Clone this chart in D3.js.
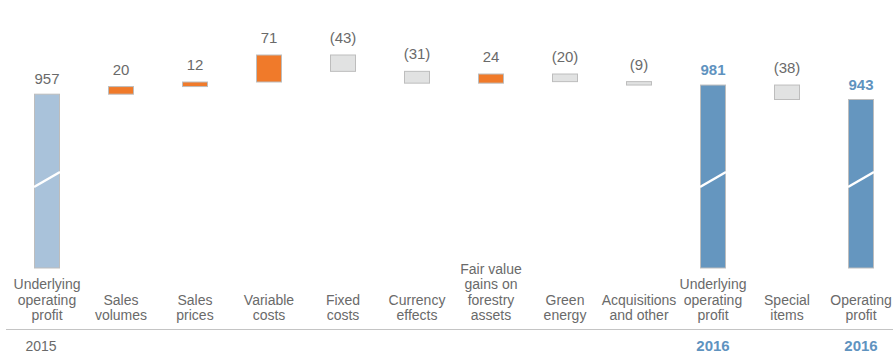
<!DOCTYPE html>
<html>
<head>
<meta charset="utf-8">
<script src="https://cdn.jsdelivr.net/npm/d3@7"></script>
<style>
  body { margin: 0; background: #fff; }
  text { font-family: "Liberation Sans", Arial, sans-serif; }
</style>
</head>
<body>
<script>
// chart data
var categories = [
  ["Underlying", "operating", "profit"],
  ["Sales", "volumes"],
  ["Sales", "prices"],
  ["Variable", "costs"],
  ["Fixed", "costs"],
  ["Currency", "effects"],
  ["Fair value", "gains on", "forestry", "assets"],
  ["Green", "energy"],
  ["Acquisitions", "and other"],
  ["Underlying", "operating", "profit"],
  ["Special", "items"],
  ["Operating", "profit"]
];
var values = [957, 20, 12, 71, -43, -31, 24, -20, -9, 981, -38, 943];
var kinds = ["total", "delta", "delta", "delta", "delta", "delta", "delta", "delta", "delta", "total", "delta", "total"];
var valueLabels = ["957", "20", "12", "71", "(43)", "(31)", "24", "(20)", "(9)", "981", "(38)", "943"];
var yearLabels = ["2015", "", "", "", "", "", "", "", "", "2016", "", "2016"];

var width = 893, height = 355;
var barW = 25;
var floorValue = 500; // visible base of the broken total bars

var svg = d3.select("body").append("svg")
    .attr("width", width)
    .attr("height", height);

var x = d3.scalePoint()
    .domain(d3.range(categories.length))
    .range([47, 861]);

var y = d3.scaleLinear()
    .domain([floorValue, 1060])
    .range([268, 55]);

// work out the start / end of every bar
var running = 0;
var bars = values.map(function(v, i) {
  var d = { i: i, kind: kinds[i], label: valueLabels[i] };
  if (kinds[i] == "total") {
    d.lo = floorValue; d.hi = v; running = v;
    d.first = (i == 0);
  } else {
    d.lo = Math.min(running, running + v);
    d.hi = Math.max(running, running + v);
    d.up = v > 0;
    running += v;
  }
  return d;
});

function fillOf(d) {
  if (d.kind == "total") return d.first ? "#a9c2da" : "#6596bf";
  return d.up ? "#f07a2a" : "#e1e2e2";
}

svg.selectAll("rect.bar")
  .data(bars)
  .enter().append("rect")
    .attr("class", "bar")
    .attr("x", function(d) { return x(d.i) - barW / 2; })
    .attr("y", function(d) { return y(d.hi); })
    .attr("width", barW)
    .attr("height", function(d) { return y(d.lo) - y(d.hi); })
    .attr("fill", fillOf)
    .attr("stroke", "#bdbdbd")
    .attr("stroke-width", 1);

// white break line across the total bars
svg.selectAll("line.brk")
  .data(bars.filter(function(d) { return d.kind == "total"; }))
  .enter().append("line")
    .attr("class", "brk")
    .attr("x1", function(d) { return x(d.i) - barW / 2 - 0.5; })
    .attr("x2", function(d) { return x(d.i) + barW / 2 + 0.5; })
    .attr("y1", 187)
    .attr("y2", 172)
    .attr("stroke", "#fff")
    .attr("stroke-width", 2.5);

// value labels
svg.selectAll("text.val")
  .data(bars)
  .enter().append("text")
    .attr("class", "val")
    .attr("x", function(d) { return x(d.i); })
    .attr("y", function(d) { return y(d.hi) - (d.kind == "total" ? 10 : 12); })
    .attr("text-anchor", "middle")
    .attr("font-size", 15)
    .attr("font-weight", function(d) { return (d.kind == "total" && !d.first) ? "bold" : "normal"; })
    .attr("fill", function(d) { return (d.kind == "total" && !d.first) ? "#5f93bf" : "#6a6a6a"; })
    .text(function(d) { return d.label; });

// category labels, bottom aligned
var lineH = 15.5;
var cat = svg.selectAll("text.cat")
  .data(categories)
  .enter().append("text")
    .attr("class", "cat")
    .attr("text-anchor", "middle")
    .attr("font-size", 14)
    .attr("fill", "#6a6a6a");

cat.each(function(lines, i) {
  var t = d3.select(this);
  lines.forEach(function(l, j) {
    t.append("tspan")
      .attr("x", x(i))
      .attr("y", 320 - (lines.length - 1 - j) * lineH)
      .text(l);
  });
});

// separator
svg.append("line")
    .attr("x1", 6).attr("x2", width)
    .attr("y1", 329.5).attr("y2", 329.5)
    .attr("stroke", "#c4c4c4")
    .attr("stroke-width", 1);

// years
svg.selectAll("text.year")
  .data(yearLabels.map(function(t, i) { return { t: t, i: i }; }).filter(function(d) { return d.t != ""; }))
  .enter().append("text")
    .attr("class", "year")
    .attr("x", function(d) { return d.i == 0 ? x(d.i) - 6 : x(d.i); })
    .attr("y", 351)
    .attr("text-anchor", "middle")
    .attr("font-size", function(d) { return d.i == 0 ? 14 : 15; })
    .attr("font-weight", function(d) { return d.i == 0 ? "normal" : "bold"; })
    .attr("fill", function(d) { return d.i == 0 ? "#6a6a6a" : "#5f93bf"; })
    .text(function(d) { return d.t; });
</script>
</body>
</html>
